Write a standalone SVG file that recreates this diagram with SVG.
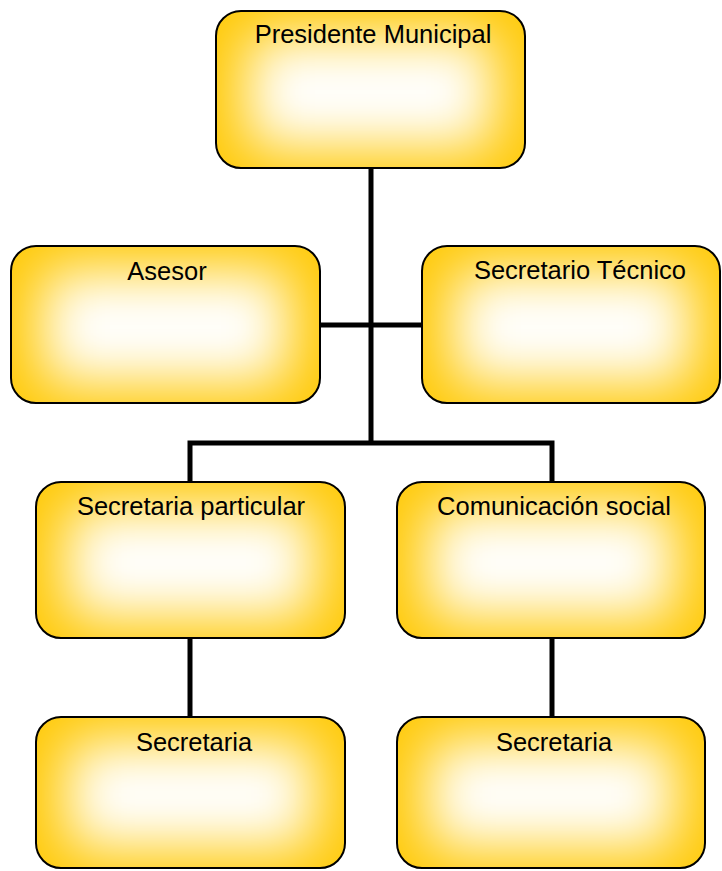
<svg xmlns="http://www.w3.org/2000/svg" width="722" height="871" viewBox="0 0 722 871">
<style>
.box{fill:#FFCA0A;}
.edge{fill:none;stroke:#000;stroke-width:2;}
.glow{fill:#fff;filter:url(#blur);}
.lbl{font-family:"Liberation Sans",Arial,sans-serif;font-size:25.5px;fill:#000;text-anchor:middle;}
.conn{fill:none;stroke:#000;stroke-width:5;stroke-linecap:butt;stroke-linejoin:miter;}
</style>
<defs>
<filter id="blur" x="-60%" y="-60%" width="220%" height="220%"><feGaussianBlur stdDeviation="28"/></filter>
<clipPath id="c1"><rect x="216" y="11" width="309" height="157" rx="25"/></clipPath>
<clipPath id="c2"><rect x="11" y="246" width="309" height="157" rx="25"/></clipPath>
<clipPath id="c3"><rect x="422" y="246" width="298" height="157" rx="25"/></clipPath>
<clipPath id="c4"><rect x="36" y="482" width="309" height="156" rx="25"/></clipPath>
<clipPath id="c5"><rect x="397" y="482" width="308" height="156" rx="25"/></clipPath>
<clipPath id="c6"><rect x="36" y="717" width="309" height="151" rx="25"/></clipPath>
<clipPath id="c7"><rect x="397" y="717" width="308" height="151" rx="25"/></clipPath>
</defs>
<rect width="722" height="871" fill="#fff"/>
<g id="connectors">
<path class="conn" d="M371,168 V445"/>
<path class="conn" d="M320,325 H422"/>
<path class="conn" d="M190,482 V443 H552 V482"/>
<path class="conn" d="M190,638 V717"/>
<path class="conn" d="M552,638 V717"/>
</g>
<g id="presidente">
<g clip-path="url(#c1)"><rect class="box" x="216" y="11" width="309" height="157"/><rect class="glow" x="248" y="36" width="245" height="112"/></g>
<rect class="edge" x="216" y="11" width="309" height="157" rx="25"/>
<text class="lbl" x="373" y="43">Presidente Municipal</text>
</g>
<g id="asesor">
<g clip-path="url(#c2)"><rect class="box" x="11" y="246" width="309" height="157"/><rect class="glow" x="43" y="271" width="245" height="112"/></g>
<rect class="edge" x="11" y="246" width="309" height="157" rx="25"/>
<text class="lbl" x="167" y="280">Asesor</text>
</g>
<g id="tecnico">
<g clip-path="url(#c3)"><rect class="box" x="422" y="246" width="298" height="157"/><rect class="glow" x="454" y="271" width="236" height="112"/></g>
<rect class="edge" x="422" y="246" width="298" height="157" rx="25"/>
<text class="lbl" x="580" y="279">Secretario Técnico</text>
</g>
<g id="particular">
<g clip-path="url(#c4)"><rect class="box" x="36" y="482" width="309" height="156"/><rect class="glow" x="68" y="507" width="245" height="111"/></g>
<rect class="edge" x="36" y="482" width="309" height="156" rx="25"/>
<text class="lbl" x="191" y="515">Secretaria particular</text>
</g>
<g id="comunicacion">
<g clip-path="url(#c5)"><rect class="box" x="397" y="482" width="308" height="156"/><rect class="glow" x="429" y="507" width="244" height="111"/></g>
<rect class="edge" x="397" y="482" width="308" height="156" rx="25"/>
<text class="lbl" x="554" y="515">Comunicación social</text>
</g>
<g id="secretaria1">
<g clip-path="url(#c6)"><rect class="box" x="36" y="717" width="309" height="151"/><rect class="glow" x="68" y="742" width="245" height="106"/></g>
<rect class="edge" x="36" y="717" width="309" height="151" rx="25"/>
<text class="lbl" x="194" y="751">Secretaria</text>
</g>
<g id="secretaria2">
<g clip-path="url(#c7)"><rect class="box" x="397" y="717" width="308" height="151"/><rect class="glow" x="429" y="742" width="244" height="106"/></g>
<rect class="edge" x="397" y="717" width="308" height="151" rx="25"/>
<text class="lbl" x="554" y="751">Secretaria</text>
</g>
</svg>
